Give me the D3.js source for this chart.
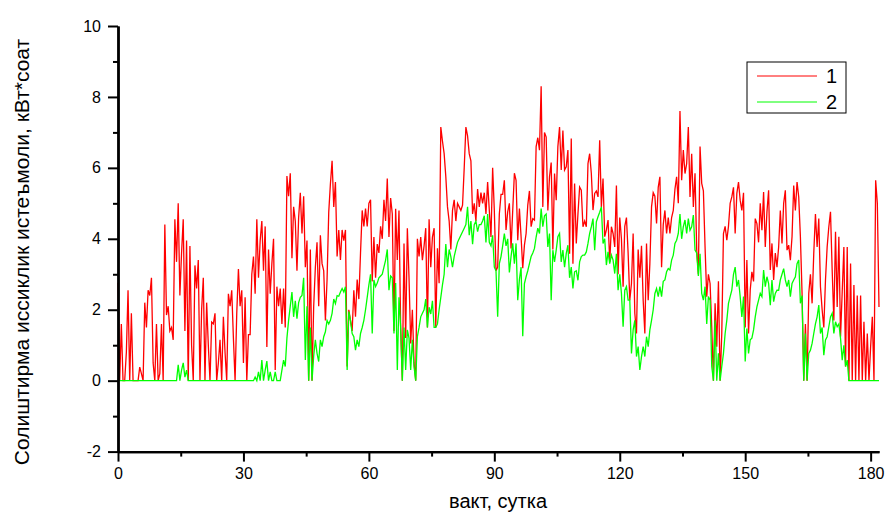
<html lang="en">
<head>
<meta charset="utf-8">
<title>Heat consumption</title>
<script src="https://cdn.jsdelivr.net/npm/d3@7"></script>
<style>
  body { margin: 0; background: #fff; }
  text { font-family: "Liberation Sans", Arial, sans-serif; fill: #000; }
  .axis path, .axis line { stroke: #000; stroke-width: 2; }
  .axis path.domain { stroke-width: 2.4; }
  .axis text { font-size: 16px; }
</style>
</head>
<body>
<script>
// sampling step of both series, days
var STEP = 0.4;

var xTicks = [0, 30, 60, 90, 120, 150, 180];
var xMinor = [15, 45, 75, 105, 135, 165];
var yTicks = [-2, 0, 2, 4, 6, 8, 10];
var yMinor = [-1, 1, 3, 5, 7, 9];

var seriesNames = ["1", "2"];

// series 1 (red)
var series1 = [
  2.76, 0, 1.6, 0, 0, 0.8, 2.55, 0, 1.9, 0,
  0, 0, 0, 0.38, 0.2, 0, 2.2, 1.5, 2.55, 2.4,
  2.9, 0.5, 0, 1.6, 0, 0.2, 1.6, 0, 4.4, 1.85,
  2.1, 1.4, 1.5, 1.15, 4.55, 3.35, 5.0, 2.4, 3.6, 4.55,
  1.4, 3.95, 0, 3.8, 1.0, 0, 3.25, 2.6, 3.4, 0,
  2.0, 2.9, 0, 2.2, 1.0, 0, 1.65, 1.6, 1.9, 0,
  0.5, 1.15, 0, 1.8, 0.8, 0, 2.45, 2.1, 2.55, 1.2,
  0, 1.9, 3.15, 2.1, 2.55, 0.5, 2.35, 0, 1.3, 1.3,
  3.0, 3.5, 2.45, 4.55, 2.9, 3.95, 4.5, 3.1, 4.35, 0.95,
  3.7, 2.45, 3.3, 4.0, 0.3, 2.65, 2.1, 2.6, 1.6, 2.6,
  1.5, 5.77, 5.2, 5.85, 3.45, 4.9, 4.5, 3.1, 4.6, 5.3,
  4.15, 5.2, 3.2, 3.95, 0, 3.7, 0, 2.1, 3.2, 3.9,
  2.1, 4.1, 3.3, 3.1, 1.7, 2.85, 4.75, 5.55, 6.2, 4.9,
  5.6, 3.5, 4.25, 3.4, 4.25, 3.95, 4.25, 0.4, 2.0, 1.7,
  1.4, 2.55, 1.8, 2.85, 2.3, 3.6, 4.8, 4.35, 4.85, 4.35,
  5.0, 5.1, 2.8, 4.05, 2.9, 3.85, 3.6, 4.35, 4.0, 5.1,
  4.5, 5.7, 4.05, 5.15, 4.7, 1.4, 4.85, 3.4, 4.8, 1.5,
  0, 3.87, 1.2, 4.3, 2.9, 1.05, 2.0, 0.5, 0, 4.0,
  3.5, 4.05, 3.4, 3.8, 4.3, 1.5, 4.55, 3.2, 4.05, 4.3,
  1.5, 3.73, 2.75, 7.15, 6.75, 6.4, 5.75, 4.9, 4.5, 3.7,
  4.8, 5.1, 4.5, 5.0, 4.9, 4.8, 4.95, 6.0, 7.15, 6.9,
  6.4, 6.2, 4.7, 5.0, 4.5, 5.4, 4.9, 5.3, 5.0, 5.3,
  4.7, 5.6, 4.8, 4.05, 6.0, 4.8, 3.1, 3.2, 4.7, 5.25,
  5.25, 5.65, 4.25, 4.76, 5.0, 3.73, 4.8, 5.85, 5.65, 3.96,
  4.85, 4.06, 3.17, 3.82, 4.15, 4.95, 5.35, 4.34, 4.57, 4.53,
  6.6, 6.85, 6.5, 8.3, 4.9, 7.0, 6.87, 4.8, 5.75, 6.15,
  3.7, 5.84, 5.09, 6.6, 7.15, 5.94, 7.05, 5.94, 6.03, 6.5,
  3.58, 6.83, 3.3, 5.56, 3.87, 4.7, 5.46, 5.37, 4.34, 4.5,
  4.34, 6.12, 6.4, 5.84, 4.81, 5.28, 5.35, 5.18, 6.78, 4.9,
  5.7, 4.06, 4.25, 4.53, 3.35, 4.34, 4.15, 3.77, 5.5, 3.0,
  4.6, 4.0, 2.65, 4.35, 4.6, 3.6, 2.27, 2.74, 4.15, 1.9,
  1.33, 3.7, 2.9, 3.8, 2.27, 1.33, 3.87, 2.27, 3.3, 4.9,
  5.3, 5.2, 4.43, 5.45, 5.75, 3.2, 4.4, 4.8, 4.15, 4.6,
  4.15, 4.6, 4.8, 5.4, 5.75, 5.0, 7.6, 5.65, 6.5, 5.84,
  6.12, 7.15, 5.18, 6.4, 4.9, 5.85, 3.7, 3.0, 6.6, 5.56,
  5.35, 3.77, 2.37, 3.0, 2.74, 1.5, 0, 2.18, 0.96, 2.8,
  0, 1.33, 4.15, 4.35, 3.96, 4.35, 5.0, 5.18, 5.45, 4.15,
  5.28, 5.6, 5.09, 4.8, 5.3, 1.5, 3.4, 1.33, 2.55, 3.07,
  2.8, 4.57, 4.43, 3.9, 5.0, 4.24, 5.32, 3.77, 4.76, 5.37,
  3.12, 3.87, 2.84, 3.6, 3.2, 3.77, 4.8, 3.87, 5.0, 5.37,
  3.68, 3.82, 3.4, 4.06, 5.5, 4.8, 5.6, 5.18, 4.06, 2.46,
  0, 1.6, 0, 2.46, 3.0, 2.18, 3.6, 4.7, 3.77, 4.57,
  2.65, 2.0, 1.5, 2.84, 3.77, 4.34, 4.76, 3.12, 1.7, 4.2,
  2.08, 4.06, 1.24, 2.5, 3.77, 0.4, 3.77, 0, 3.3, 0,
  2.7, 0, 2.4, 0, 2.4, 0, 1.66, 0, 1.33, 0,
  0.96, 1.8, 0, 5.65, 5.0, 2.08
];

// series 2 (green)
var series2 = [
  0, 0, 0, 0, 0, 0, 0, 0, 0, 0,
  0, 0, 0, 0, 0, 0, 0, 0, 0, 0,
  0, 0, 0, 0, 0, 0, 0, 0, 0, 0,
  0, 0, 0, 0, 0, 0, 0.45, 0, 0.3, 0.5,
  0.1, 0.3, 0, 0, 0, 0, 0, 0, 0, 0,
  0, 0, 0, 0, 0, 0, 0, 0, 0, 0,
  0, 0, 0, 0, 0, 0, 0, 0, 0, 0,
  0, 0, 0, 0, 0, 0, 0, 0, 0, 0,
  0, 0, 0.1, 0, 0.25, 0, 0.58, 0, 0.3, 0.55,
  0, 0.25, 0, 0, 0.25, 0, 0, 0, 0.3, 0.58,
  0.4, 1.2, 1.7, 2.1, 2.5, 1.8, 2.25, 1.75, 2.2, 2.35,
  2.4, 2.9, 0.58, 2.1, 0, 1.5, 0, 0.7, 1.15, 0.77,
  0.54, 1.15, 0.96, 1.24, 1.38, 1.7, 1.6, 1.7, 1.9, 2.3,
  2.17, 2.4, 2.38, 2.5, 2.6, 2.5, 2.65, 0.3, 1.95, 1.7,
  1.33, 1.24, 0.86, 1.15, 0.96, 1.33, 1.5, 1.7, 2.0, 2.35,
  2.7, 3.0, 1.33, 2.84, 2.65, 2.75, 2.9, 2.95, 3.0, 3.2,
  3.4, 3.7, 2.55, 2.95, 2.9, 1.33, 2.75, 0.3, 2.35, 1.5,
  0, 1.5, 0.3, 1.43, 1.2, 0.3, 1.15, 0.4, 0, 1.24,
  1.5, 1.8, 1.9, 2.0, 2.3, 1.5, 2.07, 1.88, 2.25, 1.5,
  1.5, 1.6, 2.0, 2.35, 2.7, 3.0, 3.85, 3.2, 3.7, 3.5,
  3.2, 3.5, 3.7, 3.9, 4.0, 4.1, 4.2, 4.3, 4.4, 4.9,
  4.1, 4.5, 3.85, 4.4, 4.5, 4.2, 4.4, 4.4, 4.5, 4.65,
  3.9, 4.7, 3.9, 3.8, 4.1, 3.2, 3.1, 1.8, 3.3, 3.5,
  3.8, 4.15, 3.8, 4.0, 3.05, 3.5, 3.87, 3.3, 3.87, 2.27,
  2.85, 3.2, 1.25, 2.74, 2.93, 3.1, 3.3, 3.5, 3.6, 3.73,
  4.05, 4.3, 4.15, 4.85, 4.34, 4.65, 4.7, 3.77, 4.15, 2.27,
  3.68, 3.35, 3.68, 4.06, 4.15, 3.35, 3.68, 3.2, 3.58, 3.82,
  2.9, 3.2, 2.6, 3.07, 3.1, 2.83, 3.35, 3.5, 3.54, 3.54,
  3.63, 3.87, 4.15, 4.34, 4.57, 3.68, 4.48, 4.62, 4.75, 4.9,
  3.87, 4.0, 3.26, 3.63, 3.3, 3.54, 3.4, 3.02, 3.58, 2.55,
  3.0, 2.46, 1.52, 2.55, 2.65, 2.27, 2.27, 0.77, 1.43, 1.7,
  0.68, 0.96, 0.3, 0.68, 0.96, 0.68, 1.24, 0.96, 1.43, 1.7,
  2.0, 2.46, 2.6, 2.37, 2.65, 2.37, 2.8, 2.84, 3.07, 3.16,
  3.12, 3.4, 3.54, 3.87, 3.96, 4.15, 4.7, 4.0, 4.34, 4.53,
  4.15, 4.57, 4.24, 4.34, 4.67, 3.68, 3.6, 2.95, 3.58, 2.46,
  2.27, 2.65, 1.6, 2.37, 2.27, 0.4, 0, 1.7, 0, 0.77,
  0, 0.4, 0.77, 1.33, 1.7, 2.18, 2.37, 2.55, 3.0, 3.2,
  2.65, 2.84, 2.37, 1.8, 2.37, 0.54, 1.47, 0.77, 1.15, 1.2,
  1.43, 1.8, 2.08, 2.27, 2.46, 2.37, 3.12, 2.65, 2.93, 2.74,
  2.13, 2.84, 2.23, 2.46, 2.55, 2.55, 2.84, 3.0, 3.16, 2.84,
  2.65, 2.84, 2.37, 2.74, 2.84, 2.93, 3.3, 3.4, 2.18, 2.4,
  0, 1.33, 0, 0.77, 0.86, 1.05, 1.33, 1.6, 1.8, 2.13,
  1.33, 1.5, 0.72, 1.15, 1.24, 1.52, 1.8, 1.9, 1.33, 1.66,
  1.52, 1.6, 1.2, 0.58, 1.0, 0.4, 0.58, 0, 0, 0,
  0, 0, 0, 0, 0, 0, 0, 0, 0, 0,
  0, 0, 0, 0, 0, 0
];

var w = 890, h = 515;

var svg = d3.select("body").append("svg")
  .attr("width", w)
  .attr("height", h);

var xScale = d3.scaleLinear().domain([0, 182]).range([118, 879]);
var yScale = d3.scaleLinear().domain([-2, 10]).range([451.6, 26]);

// lines
var line = d3.line()
  .x(function(d, i) { return xScale(i * STEP); })
  .y(function(d) { return yScale(d); });

svg.append("path")
  .attr("d", line(series1))
  .attr("fill", "none")
  .attr("stroke", "#ff0000")
  .attr("stroke-width", 1.3);

svg.append("path")
  .attr("d", line(series2))
  .attr("fill", "none")
  .attr("stroke", "#00ff00")
  .attr("stroke-width", 1.3);

// plain hyphen for negatives, like the original
var plain = function(d) { return String(d); };

// minor ticks first, major axis on top
svg.append("g")
  .attr("class", "axis")
  .attr("transform", "translate(0," + yScale(-2) + ")")
  .call(d3.axisBottom(xScale).tickValues(xMinor).tickSize(5).tickSizeOuter(0).tickFormat(""));
svg.append("g")
  .attr("class", "axis")
  .attr("transform", "translate(" + xScale(0) + ",0)")
  .call(d3.axisLeft(yScale).tickValues(yMinor).tickSize(5).tickSizeOuter(0).tickFormat(""));

svg.append("g")
  .attr("class", "axis")
  .attr("transform", "translate(0," + yScale(-2) + ")")
  .call(d3.axisBottom(xScale).tickValues(xTicks).tickSize(10).tickSizeOuter(0).tickPadding(6).tickFormat(plain));
svg.append("g")
  .attr("class", "axis")
  .attr("transform", "translate(" + xScale(0) + ",0)")
  .call(d3.axisLeft(yScale).tickValues(yTicks).tickSize(10).tickSizeOuter(0).tickPadding(7).tickFormat(plain));

// axis titles
svg.append("text")
  .attr("x", 498)
  .attr("y", 508)
  .attr("text-anchor", "middle")
  .style("font-size", "20px")
  .text("вакт, сутка");

svg.append("text")
  .attr("transform", "translate(29,252) rotate(-90)")
  .attr("text-anchor", "middle")
  .style("font-size", "21px")
  .text("Солиштирма иссиклик истеъмоли, кВт*соат");

// legend
var legend = svg.append("g");
legend.append("rect")
  .attr("x", 747).attr("y", 62)
  .attr("width", 99).attr("height", 51)
  .attr("fill", "#fff")
  .attr("stroke", "#000")
  .attr("stroke-width", 1);

var legendColors = ["#ff0000", "#00ff00"];
seriesNames.forEach(function(name, i) {
  var ly = 76 + i * 26;
  legend.append("line")
    .attr("x1", 757).attr("x2", 817)
    .attr("y1", ly).attr("y2", ly)
    .attr("stroke", legendColors[i])
    .attr("stroke-width", 1);
  legend.append("text")
    .attr("x", 826).attr("y", ly + 7)
    .style("font-size", "20px")
    .text(name);
});
</script>
</body>
</html>
